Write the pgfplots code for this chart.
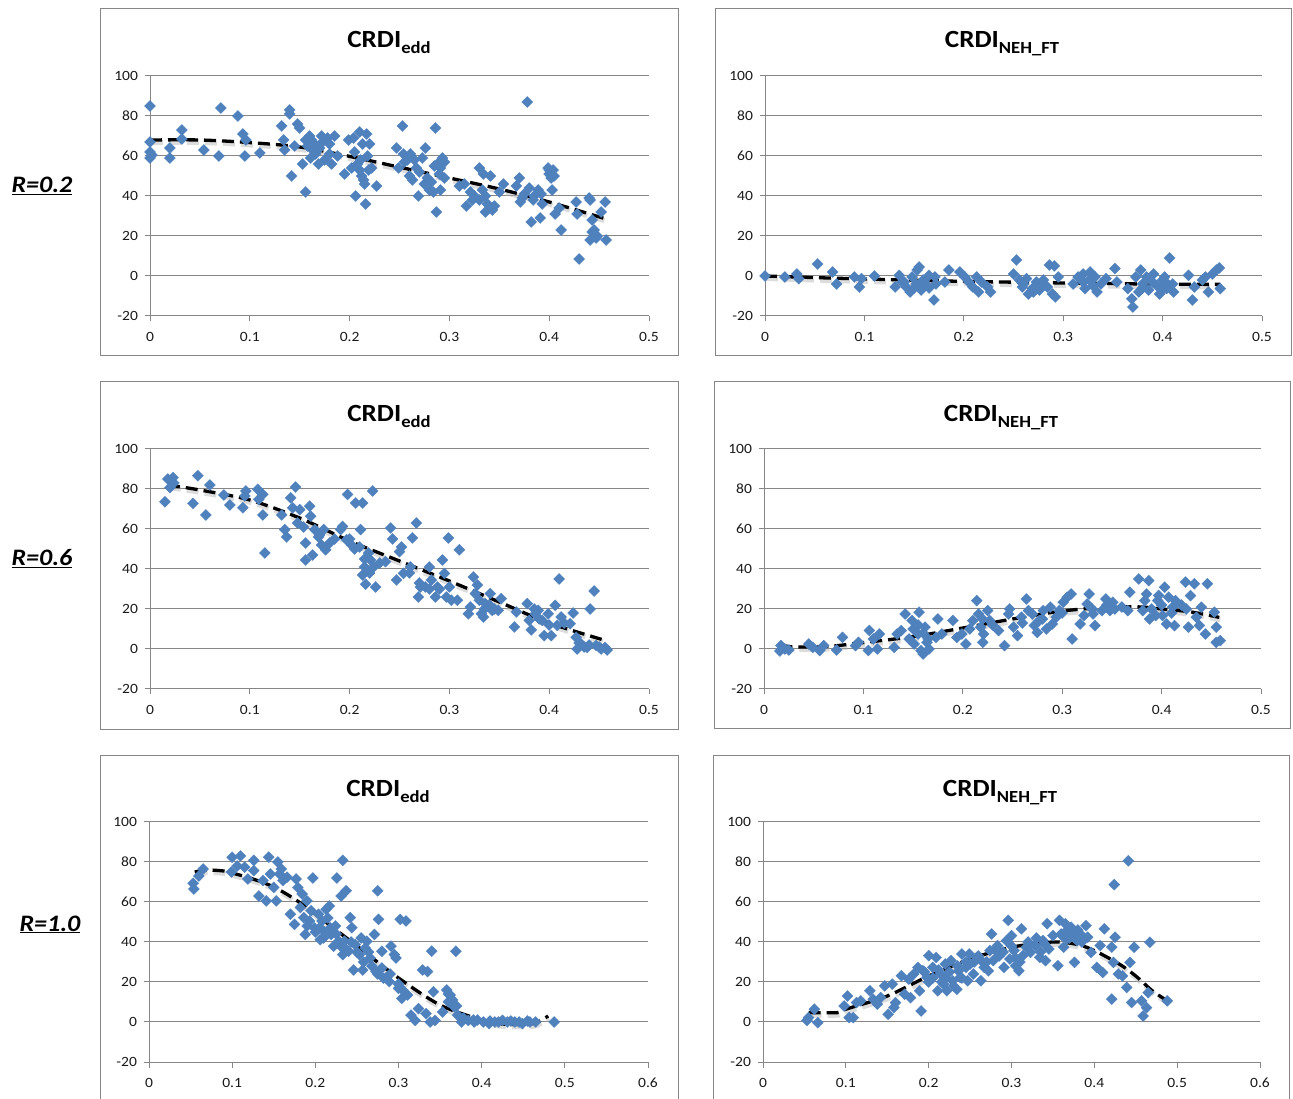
\documentclass[border=0pt]{standalone}
\usepackage{pgfplots}
\pgfplotsset{compat=1.18}
\usepackage{fontspec}
\setmainfont{Carlito}[FakeStretch=1.1]

\definecolor{mblue}{RGB}{79,129,189}
\definecolor{axgray}{RGB}{134,134,134}
\definecolor{frgray}{RGB}{134,134,134}

\pgfplotsset{
  panel/.style={
    scale only axis, width=499bp, height=240bp,
    xmin=0, xmax=0.5, ymin=-20, ymax=100,
    xtick={0,0.1,0.2,0.3,0.4,0.5}, ytick={-20,0,20,40,60,80,100},
    axis lines*=left,
    axis line style={draw=axgray, line width=1bp},
    ymajorgrids, major grid style={draw=axgray, line width=1bp},
    tick align=outside, major tick length=5.5bp,
    tick style={draw=axgray, line width=1bp},
    /pgf/number format/assume math mode=true,
    ticklabel style={font=\fontsize{14.2}{16}\selectfont, text=black!90},
    xticklabel style={yshift=-7bp},
    yticklabel style={xshift=-3bp},
    clip=false,
  },
  pts/.style={only marks, mark=square*, mark size=3.9bp,
    mark options={rotate=45, fill=mblue, draw=mblue, line width=0.3bp}},
  trendshadow/.style={smooth, draw=black!30, opacity=0.45, line width=5bp,
    dash pattern=on 12bp off 6bp, transform canvas={xshift=1bp,yshift=-2.5bp}},
  trend/.style={smooth, draw=black, line width=3.3bp, dash pattern=on 12bp off 6bp},
}

\newcommand{\ttl}[1]{{\bfseries\fontsize{24.8}{30}\selectfont CRDI\raisebox{-6bp}{\fontsize{17}{19}\selectfont #1}}}
\newcommand{\rlab}[1]{{\bfseries\itshape\fontsize{23.7}{28}\selectfont\underline{#1}}}

\begin{document}
\begin{tikzpicture}
\useasboundingbox (0,0) rectangle (1293bp,1099bp);
\clip (0,0) rectangle (1293bp,1099bp);

\begin{scope}[x=1bp,y=1bp]
% panel frames
\draw[frgray, line width=1bp] (100,1090) rectangle (678,743);
\draw[frgray, line width=1bp] (715,1090) rectangle (1291,743);
\draw[frgray, line width=1bp] (100,717) rectangle (678,369);
\draw[frgray, line width=1bp] (714,717) rectangle (1290,370);
\draw[frgray, line width=1bp] (100,-10) rectangle (678,343);
\draw[frgray, line width=1bp] (713,-10) rectangle (1289,343);

% titles
\node[anchor=base] at (389,1051) {\ttl{edd}};
\node[anchor=base] at (1002,1051) {\ttl{NEH\_FT}};
\node[anchor=base] at (389,677) {\ttl{edd}};
\node[anchor=base] at (1001,677) {\ttl{NEH\_FT}};
\node[anchor=base] at (388,303) {\ttl{edd}};
\node[anchor=base] at (1000,303) {\ttl{NEH\_FT}};

% row labels
\node[anchor=base] at (42,906) {\rlab{R=0.2}};
\node[anchor=base] at (42,533) {\rlab{R=0.6}};
\node[anchor=base] at (50,168) {\rlab{R=1.0}};
\end{scope}

% ---- R=0.2, edd
\begin{axis}[panel, at={(150bp,783bp)}, anchor=south west]
\addplot[pts] coordinates {(0,85)(0,67)(0,62)(0,59)(0.002,60.5)(0.02,64)(0.02,59)(0.032,73)(0.032,68.5)(0.054,63)(0.069,60)(0.071,84)(0.088,80)(0.093,71)(0.095,60)(0.096,68)(0.11,61.5)(0.132,75)(0.135,63)(0.134,68)(0.14,83)(0.14,81)(0.142,50)(0.145,65)(0.148,76)(0.15,74)(0.153,56)(0.156,42)(0.156,68)(0.16,70)(0.161,59)(0.163,63)(0.165,66)(0.169,56)(0.172,70)(0.173,67)(0.18,66)(0.182,56)(0.185,70)(0.18,61)(0.195,51)(0.199,68)(0.204,69)(0.206,40)(0.21,72)(0.211,58)(0.213,66)(0.215,46)(0.216,36)(0.217,71)(0.219,53)(0.222,54)(0.227,45)(0.21,53)(0.202,54)(0.247,64)(0.253,75)(0.249,54)(0.254,61)(0.258,58)(0.261,61)(0.26,50)(0.263,48)(0.267,54)(0.269,40)(0.273,59)(0.276,64)(0.278,49)(0.28,43)(0.284,42)(0.286,74)(0.287,32)(0.288,56)(0.291,54)(0.293,59)(0.291,43)(0.295,49)(0.31,45)(0.315,46)(0.317,35)(0.321,42)(0.323,38)(0.33,54)(0.334,51)(0.336,40)(0.336,32)(0.341,50)(0.343,33)(0.338,36)(0.35,42)(0.354,46)(0.367,45)(0.37,49)(0.373,39)(0.371,37)(0.378,87)(0.38,44)(0.382,27)(0.384,38)(0.389,43)(0.391,29)(0.393,36)(0.399,54)(0.4,51)(0.402,49)(0.404,53)(0.403,43)(0.406,31)(0.412,23)(0.41,34)(0.427,37)(0.428,31)(0.43,8.5)(0.44,39)(0.441,38)(0.443,28)(0.441,18)(0.443,22)(0.447,19)(0.452,32)(0.456,37)(0.457,18)
(0.158,65)(0.162,68)(0.166,61)(0.17,64)(0.175,58)(0.178,69)(0.188,60)(0.205,62)(0.208,56)(0.212,50)(0.218,60)(0.22,66)(0.214,48)(0.255,57)(0.265,58)(0.27,52)(0.275,46)(0.282,47)(0.29,51)(0.285,55)(0.295,57)(0.325,40)(0.33,38)(0.333,43)(0.345,35)(0.375,41)(0.385,40)(0.392,41)(0.4,53)(0.405,50)(0.445,23)(0.448,20)};
\addplot[trendshadow] coordinates {(0,68)(0.05,68)(0.1,66.7)(0.15,64.5)(0.2,59.8)(0.25,54.4)(0.3,49)(0.35,43.5)(0.4,37)(0.457,28.5)};
\addplot[trend] coordinates {(0,68)(0.05,68)(0.1,66.7)(0.15,64.5)(0.2,59.8)(0.25,54.4)(0.3,49)(0.35,43.5)(0.4,37)(0.457,28.5)};
\end{axis}

% ---- R=0.2, NEH_FT
\begin{axis}[panel, width=497bp, at={(765bp,783bp)}, anchor=south west]
\addplot[pts] coordinates {(0,0)(0.02,-0.5)(0.032,1)(0.034,-1.3)(0.053,6)(0.068,2)(0.072,-4)(0.09,-0.5)(0.095,-5.5)(0.097,-1.3)(0.11,0)(0.131,-5.5)(0.135,0.3)(0.138,-3)(0.142,-5.5)(0.146,-8)(0.148,-0.5)(0.152,-4)(0.153,3)(0.155,4.5)(0.157,-7)(0.159,-2)(0.161,-4.7)(0.165,0.3)(0.17,-12)(0.171,-0.5)(0.172,-4)(0.181,-3)(0.185,3)(0.196,2)(0.201,-0.5)(0.205,-3)(0.209,-5.5)(0.213,-0.5)(0.215,-8)(0.218,-3)(0.224,-5.5)(0.227,-8)(0.25,1)(0.253,8)(0.256,-2)(0.259,-5.5)(0.263,-1.3)(0.265,-9)(0.269,-6.3)(0.273,-3)(0.276,-7)(0.28,-2)(0.284,-5.5)(0.286,5.5)(0.289,-9)(0.291,5)(0.292,-10.5)(0.295,-0.5)(0.31,-4)(0.315,-0.5)(0.32,1)(0.322,-6.3)(0.326,-2)(0.327,2)(0.332,-0.5)(0.334,-8)(0.338,-4)(0.343,-1.3)(0.352,3.7)(0.354,-3)(0.365,-6.3)(0.369,-11.4)(0.37,-15.5)(0.373,-0.5)(0.376,-8)(0.378,3)(0.38,-4)(0.384,-0.5)(0.386,-7)(0.391,1)(0.394,-4.7)(0.397,-9)(0.4,-2)(0.402,-0.5)(0.404,-6.3)(0.407,9)(0.41,-4)(0.411,-8)(0.426,0.3)(0.43,-12)(0.432,-5.5)(0.44,-2)(0.443,-0.5)(0.446,-8)(0.45,1)(0.454,3)(0.457,4)(0.458,-6.3)
(0.14,-3)(0.15,-6)(0.16,-3)(0.165,-6)(0.26,-4)(0.27,-8)(0.28,-4)(0.32,-3)(0.33,-5)(0.38,-6)(0.39,-3)(0.4,-7)(0.405,-4)};
\addplot[trendshadow] coordinates {(0,0)(0.05,-0.8)(0.1,-1.5)(0.15,-2.1)(0.2,-2.7)(0.25,-3.1)(0.3,-3.5)(0.35,-3.8)(0.4,-4.1)(0.458,-4.2)};
\addplot[trend] coordinates {(0,0)(0.05,-0.8)(0.1,-1.5)(0.15,-2.1)(0.2,-2.7)(0.25,-3.1)(0.3,-3.5)(0.35,-3.8)(0.4,-4.1)(0.458,-4.2)};
\end{axis}

% ---- R=0.6, edd
\begin{axis}[panel, at={(150bp,410bp)}, anchor=south west]
\addplot[pts] coordinates {(0.015,73.6)(0.018,85)(0.02,80.7)(0.023,85.7)(0.024,83)(0.043,72.8)(0.048,86.6)(0.056,67)(0.06,82)(0.074,77)(0.08,72)(0.093,70.6)(0.095,76.5)(0.096,79)(0.108,79.8)(0.109,74.8)(0.113,77.3)(0.113,67)(0.115,48)(0.132,67)(0.135,59.7)(0.137,56)(0.141,75.6)(0.143,70.6)(0.146,81)(0.148,63)(0.15,69.7)(0.154,61)(0.156,53)(0.156,44.5)(0.16,71.4)(0.161,66.4)(0.163,47)(0.165,59.7)(0.169,56)(0.172,52)(0.174,59.7)(0.176,49.6)(0.18,53)(0.191,59.7)(0.193,61.3)(0.197,54.6)(0.198,77.3)(0.202,52)(0.206,73)(0.21,51)(0.211,59.7)(0.213,73)(0.213,37)(0.215,41)(0.216,32.4)(0.219,48)(0.221,44.5)(0.223,79)(0.224,41)(0.226,31)(0.236,43.7)(0.241,60.5)(0.243,55)(0.247,34.5)(0.25,48.7)(0.252,51)(0.254,37.8)(0.261,41)(0.263,55.5)(0.267,63)(0.269,26)(0.271,31)(0.276,31)(0.28,41)(0.282,34.5)(0.286,26)(0.288,31)(0.293,44.5)(0.295,37.8)(0.297,26)(0.299,55.5)(0.3,31)(0.302,24.4)(0.308,24.4)(0.31,49.6)(0.319,17.6)(0.321,21)(0.324,36)(0.326,27.7)(0.328,32)(0.33,24.4)(0.332,17.6)(0.334,16)(0.336,22.7)(0.341,27.7)(0.343,19.3)(0.349,19.3)(0.352,25.2)(0.365,11)(0.367,18.5)(0.378,22.7)(0.38,14.3)(0.382,9.6)(0.386,17.6)(0.389,19.3)(0.393,14.3)(0.395,6.7)(0.399,17.6)(0.402,6.7)(0.406,21.8)(0.408,11.8)(0.41,35)(0.412,16)(0.421,12.6)(0.424,18)(0.427,5.9)(0.428,0)(0.432,2.5)(0.438,0.8)(0.441,20)(0.445,29)(0.447,1.7)(0.452,0)(0.456,0.8)(0.458,-0.5)
(0.17,57)(0.185,55)(0.2,55)(0.205,50)(0.215,45)(0.22,38)(0.23,43)(0.26,38)(0.27,33)(0.28,30)(0.29,30)(0.335,20)(0.34,22)(0.345,20)(0.385,20)(0.39,15)(0.4,12)(0.415,13)(0.43,3)(0.435,1)(0.44,2)(0.45,1)};
\addplot[trendshadow] coordinates {(0.018,82)(0.05,79.5)(0.1,74.5)(0.15,65.5)(0.2,54)(0.25,44)(0.3,34)(0.35,23.5)(0.4,13)(0.458,4)};
\addplot[trend] coordinates {(0.018,82)(0.05,79.5)(0.1,74.5)(0.15,65.5)(0.2,54)(0.25,44)(0.3,34)(0.35,23.5)(0.4,13)(0.458,4)};
\end{axis}

% ---- R=0.6, NEH_FT
\begin{axis}[panel, width=497bp, at={(764bp,410bp)}, anchor=south west]
\addplot[pts] coordinates {(0.016,-1)(0.017,1.7)(0.021,0)(0.025,-0.5)(0.045,2.5)(0.049,0.8)(0.056,-0.8)(0.06,1.7)(0.073,-0.5)(0.079,5.8)(0.092,1.7)(0.095,3.3)(0.105,-0.8)(0.106,9.2)(0.11,5)(0.114,0)(0.116,7.5)(0.131,0.8)(0.134,7.5)(0.138,9.2)(0.142,17.5)(0.146,5)(0.149,14.2)(0.151,2.5)(0.155,7.5)(0.156,18.4)(0.158,-0.8)(0.16,-2.5)(0.162,10.9)(0.164,3.3)(0.166,0)(0.173,5.8)(0.175,15)(0.179,7.5)(0.19,14.2)(0.194,5.8)(0.199,7.5)(0.203,2.5)(0.207,10)(0.21,14.2)(0.214,24.2)(0.216,17.5)(0.218,10.9)(0.22,3.3)(0.221,7.5)(0.225,19.2)(0.227,14.2)(0.236,9.2)(0.242,1.7)(0.246,17.5)(0.247,20)(0.251,10.9)(0.255,6.7)(0.259,15.9)(0.264,25)(0.266,19.2)(0.27,17.5)(0.272,11.7)(0.275,8.3)(0.277,14.2)(0.281,19.2)(0.284,10)(0.288,20.9)(0.29,12.5)(0.294,15.9)(0.297,19.2)(0.301,23.4)(0.305,25.9)(0.309,27.5)(0.31,5)(0.318,12.5)(0.322,16.7)(0.325,22.5)(0.327,27.5)(0.331,17.5)(0.333,11.7)(0.34,19.2)(0.344,25)(0.348,19.2)(0.351,23.4)(0.353,20)(0.366,19.2)(0.368,28.4)(0.377,35)(0.381,19.2)(0.383,24.2)(0.385,27.5)(0.387,34.2)(0.388,15)(0.394,16.7)(0.396,24.2)(0.397,26.7)(0.401,16.7)(0.403,30.9)(0.405,12.5)(0.407,25.9)(0.411,20.9)(0.413,11.7)(0.414,24.2)(0.424,33.4)(0.425,20)(0.427,10.9)(0.429,26.7)(0.433,32.6)(0.435,15.9)(0.438,11.7)(0.44,20.9)(0.444,7.5)(0.446,32.6)(0.453,18.4)(0.455,10.9)(0.455,3.3)(0.459,4.2)
(0.15,10)(0.155,12)(0.16,8)(0.165,5)(0.22,15)(0.23,12)(0.26,13)(0.28,15)(0.3,18)(0.33,20)(0.345,22)(0.36,21)(0.39,20)(0.4,22)(0.41,18)(0.42,22)};
\addplot[trendshadow] coordinates {(0.017,2.5)(0.025,1.2)(0.05,1)(0.07,1.5)(0.1,3.2)(0.15,6.2)(0.2,10.5)(0.25,15)(0.3,19)(0.35,21)(0.38,21)(0.4,20)(0.43,18.5)(0.458,15.8)};
\addplot[trend] coordinates {(0.017,2.5)(0.025,1.2)(0.05,1)(0.07,1.5)(0.1,3.2)(0.15,6.2)(0.2,10.5)(0.25,15)(0.3,19)(0.35,21)(0.38,21)(0.4,20)(0.43,18.5)(0.458,15.8)};
\end{axis}

% ---- R=1.0, edd
\begin{axis}[panel, xmax=0.6, xtick={0,0.1,0.2,0.3,0.4,0.5,0.6}, at={(149bp,37bp)}, anchor=south west]
\addplot[pts] coordinates {(0.053,69.4)(0.054,66.5)(0.06,73)(0.065,76.5)(0.099,75)(0.1,82.4)(0.106,78)(0.11,83)(0.115,77.4)(0.119,71.5)(0.126,80.8)(0.126,75.7)(0.132,63)(0.137,70.7)(0.141,60.6)(0.144,82.4)(0.146,74)(0.15,67.3)(0.153,60.6)(0.155,80)(0.157,74)(0.159,76.5)(0.161,70.7)(0.166,72.4)(0.17,53.9)(0.175,48.8)(0.177,71.5)(0.179,67.3)(0.182,57.2)(0.184,64)(0.186,52.2)(0.188,43.8)(0.19,60.6)(0.193,50.5)(0.195,55.6)(0.197,72)(0.199,47.1)(0.204,53.9)(0.206,41.2)(0.208,50.5)(0.21,45.5)(0.213,56.4)(0.217,58)(0.219,43.8)(0.222,37.9)(0.224,48)(0.226,72)(0.228,40.4)(0.231,63)(0.233,80.8)(0.233,33.7)(0.235,40.4)(0.237,65.6)(0.24,35.4)(0.242,52.2)(0.244,47.1)(0.246,26)(0.248,38.7)(0.253,33.7)(0.255,42)(0.257,26)(0.26,37)(0.262,40.4)(0.266,32)(0.271,43.8)(0.273,25.2)(0.275,65.6)(0.276,51.3)(0.28,35.4)(0.282,21.9)(0.289,20.2)(0.291,37.9)(0.295,33.7)(0.297,32)(0.3,16.8)(0.302,51.3)(0.304,11.8)(0.309,50.5)(0.311,13.5)(0.315,3.4)(0.32,0.8)(0.324,6.7)(0.329,26)(0.333,4.2)(0.335,25.2)(0.338,0)(0.34,35.4)(0.342,15.1)(0.344,0.8)(0.353,5)(0.358,16)(0.36,10.1)(0.362,13.5)(0.367,7.6)(0.369,35.4)(0.371,3.4)(0.376,0)(0.384,0.8)(0.391,0)(0.402,0)(0.409,-0.8)(0.416,0)(0.425,0.8)(0.431,0)(0.44,0)(0.449,-0.8)(0.458,0)(0.465,0)(0.487,0)
(0.19,48)(0.2,45)(0.205,47)(0.21,42)(0.215,52)(0.218,47)(0.225,44)(0.23,38)(0.238,36)(0.243,40)(0.25,35)(0.258,30)(0.264,35)(0.268,28)(0.275,24)(0.28,27)(0.285,22)(0.29,24)(0.3,19)(0.305,16)(0.36,14)(0.365,11)(0.37,8)(0.378,2)(0.39,1)(0.395,1)(0.41,0.5)(0.42,0)(0.435,0.5)(0.445,0)(0.455,0.5)};
\addplot[trendshadow] coordinates {(0.055,75)(0.07,76)(0.09,75.5)(0.1,74.5)(0.125,71.5)(0.15,67.5)(0.175,61.5)(0.2,54)(0.25,38)(0.3,22)(0.35,8.5)(0.4,1)(0.425,-1)(0.45,-1.2)(0.465,-0.5)(0.48,3)};
\addplot[trend] coordinates {(0.055,75)(0.07,76)(0.09,75.5)(0.1,74.5)(0.125,71.5)(0.15,67.5)(0.175,61.5)(0.2,54)(0.25,38)(0.3,22)(0.35,8.5)(0.4,1)(0.425,-1)(0.45,-1.2)(0.465,-0.5)(0.48,3)};
\end{axis}

% ---- R=1.0, NEH_FT
\begin{axis}[panel, width=497bp, xmax=0.6, xtick={0,0.1,0.2,0.3,0.4,0.5,0.6}, at={(763bp,37bp)}, anchor=south west]
\addplot[pts] coordinates {(0.053,0.8)(0.055,2.2)(0.062,6.4)(0.066,-0.3)(0.098,8)(0.102,13)(0.104,2.2)(0.109,2.2)(0.113,9.7)(0.118,10.6)(0.129,15.6)(0.133,11.4)(0.138,8.9)(0.142,12.2)(0.147,18.1)(0.151,3.9)(0.156,18.9)(0.158,7.2)(0.16,9.7)(0.167,23.1)(0.171,13.9)(0.176,21.4)(0.178,12.2)(0.182,24)(0.187,27.3)(0.189,15.6)(0.191,5.5)(0.193,25.6)(0.198,22.3)(0.2,33.2)(0.205,27.3)(0.209,32.3)(0.211,15.6)(0.214,24)(0.218,18.9)(0.22,29)(0.222,15.6)(0.227,30.7)(0.229,20.6)(0.234,16.4)(0.236,25.6)(0.238,22.3)(0.24,34)(0.245,27.3)(0.247,20.6)(0.249,34)(0.254,24)(0.258,32.3)(0.263,20.6)(0.267,27.3)(0.272,25.6)(0.274,35.7)(0.276,44)(0.278,30.7)(0.283,38.2)(0.287,34)(0.291,27.3)(0.294,40.7)(0.296,50.8)(0.298,31.5)(0.3,43.2)(0.303,35.7)(0.305,28.1)(0.309,25.6)(0.312,46.6)(0.314,33.2)(0.318,37.4)(0.323,34.8)(0.329,38.2)(0.334,32.3)(0.338,40.7)(0.341,30.7)(0.343,49.1)(0.345,36.5)(0.35,43.2)(0.356,28.1)(0.358,50.8)(0.361,43.2)(0.363,37.4)(0.365,49.1)(0.367,41.5)(0.372,47.4)(0.376,29.8)(0.379,40.7)(0.383,44)(0.39,48.2)(0.392,42.4)(0.396,34.8)(0.403,27.3)(0.407,38.2)(0.41,24.8)(0.412,46.6)(0.421,37.4)(0.421,11.4)(0.423,29.8)(0.424,68.7)(0.425,42.4)(0.429,24)(0.434,23.1)(0.439,17.3)(0.441,80.6)(0.443,29.8)(0.445,9.7)(0.448,37.4)(0.457,10.6)(0.459,3)(0.463,7.2)(0.465,14.7)(0.467,39.9)(0.488,10.6)
(0.195,25)(0.2,20)(0.205,22)(0.212,26)(0.216,20)(0.22,22)(0.225,25)(0.23,18)(0.235,28)(0.24,22)(0.245,30)(0.25,29)(0.255,30)(0.26,33)(0.265,30)(0.27,30)(0.28,36)(0.285,33)(0.29,35)(0.3,38)(0.305,32)(0.31,30)(0.32,40)(0.33,42)(0.335,35)(0.34,39)(0.36,44)(0.365,45)(0.37,42)(0.375,44)(0.38,46)(0.385,40)};
\addplot[trendshadow] coordinates {(0.055,4.7)(0.09,4.7)(0.1,6.4)(0.15,13)(0.2,23)(0.25,31.5)(0.3,37.4)(0.35,40)(0.38,38.7)(0.4,35.7)(0.43,29)(0.45,23)(0.47,15.6)(0.488,10.6)};
\addplot[trend] coordinates {(0.055,4.7)(0.09,4.7)(0.1,6.4)(0.15,13)(0.2,23)(0.25,31.5)(0.3,37.4)(0.35,40)(0.38,38.7)(0.4,35.7)(0.43,29)(0.45,23)(0.47,15.6)(0.488,10.6)};
\end{axis}
\end{tikzpicture}
\end{document}
